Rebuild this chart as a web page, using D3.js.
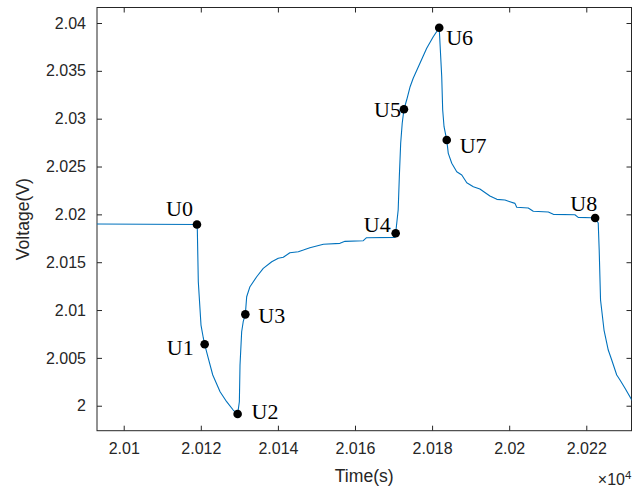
<!DOCTYPE html>
<html>
<head>
<meta charset="utf-8">
<script src="https://cdn.jsdelivr.net/npm/d3@7"></script>
<style>
  html, body { margin: 0; padding: 0; background: #fff; }
  svg { display: block; }
</style>
</head>
<body>
<svg id="chart" width="632" height="489"></svg>
<script>
// Discharge / charge voltage trace (time in seconds)
const timeS = [
  20093.0, 20119.0, 20119.1, 20119.35, 20120.05, 20120.65, 20121.0, 20121.95,
  20123.1, 20125.0, 20126.7, 20128.4, 20129.55, 20130.0, 20130.17, 20130.6,
  20131.0, 20131.55, 20131.9, 20132.75, 20134.5, 20136.2, 20138.4, 20140.1,
  20141.4, 20143.1, 20145.3, 20146.6, 20148.3, 20151.8, 20156.1, 20157.4,
  20162.15, 20163.0, 20170.4, 20170.55, 20171.2, 20171.5, 20171.85, 20172.25,
  20172.7, 20173.4, 20174.3, 20175.1, 20176.85, 20178.6, 20180.3, 20181.85,
  20182.05, 20182.5, 20182.75, 20183.1, 20183.8, 20184.2, 20185.1, 20186.4,
  20187.7, 20189.0, 20190.7, 20192.4, 20195.0, 20196.8, 20198.9, 20200.2,
  20201.5, 20201.95, 20204.95, 20206.25, 20210.15, 20211.45, 20217.05, 20217.9,
  20221.4, 20222.3, 20223.1, 20223.35, 20223.7, 20224.6, 20225.7, 20226.6,
  20227.9, 20228.75, 20230.05, 20231.8, 20232.4
];
const voltageV = [
  2.0190, 2.01894, 2.01836, 2.01296, 2.00843, 2.00708, 2.00642, 2.00495,
  2.00321, 2.00146, 2.00042, 1.99955, 1.99913, 2.00042, 2.00425, 2.00773,
  2.00878, 2.00955, 2.01139, 2.01244, 2.01348, 2.01436, 2.01505, 2.01541,
  2.01551, 2.01599, 2.01610, 2.01627, 2.01651, 2.01687, 2.01697, 2.01718,
  2.01725, 2.01756, 2.01760, 2.01802, 2.02045, 2.02394, 2.02743, 2.02952,
  2.03098, 2.03195, 2.03334, 2.03422, 2.03579, 2.03736, 2.03857, 2.03951,
  2.03788, 2.03439, 2.03091, 2.02916, 2.02777, 2.02638, 2.02534, 2.02446,
  2.02411, 2.02331, 2.02289, 2.02265, 2.02192, 2.02157, 2.02150, 2.02132,
  2.02115, 2.02074, 2.02066, 2.02032, 2.02025, 2.02000, 2.01996, 2.01969,
  2.01965, 2.01962, 2.01910, 2.01627, 2.01105, 2.00791, 2.00582, 2.00478,
  2.00321, 2.00269, 2.00182, 2.00060, 2.00028
];

// Characteristic points U0..U8
const keyNames = ["U0", "U1", "U2", "U3", "U4", "U5", "U6", "U7", "U8"];
const keyTime = [20119.0, 20121.0, 20129.55, 20131.55, 20170.55, 20172.7, 20181.85, 20183.8, 20222.3];
const keyVolt = [2.01894, 2.00642, 1.99913, 2.00955, 2.01802, 2.03098, 2.03951, 2.02777, 2.01962];

// Axis ticks
const xTicks = [20100, 20120, 20140, 20160, 20180, 20200, 20220];
const yTicks = [2.000, 2.005, 2.010, 2.015, 2.020, 2.025, 2.030, 2.035, 2.040];

const svg = d3.select("#chart");
const box = { left: 97, right: 631.5, top: 7.5, bottom: 430.7 };
const axisColor = "#262626";

const x = d3.scaleLinear().domain([20093.07, 20231.86]).range([box.left, box.right + 0.5]);
const y = d3.scaleLinear().domain([1.99739, 2.04162]).range([box.bottom, box.top]);

svg.append("defs").append("clipPath").attr("id", "plotArea")
  .append("rect")
  .attr("x", box.left).attr("y", box.top)
  .attr("width", box.right - box.left).attr("height", box.bottom - box.top);

// Axes: ticks point inward, box drawn on all sides
const tickLen = 5;
const fmtX = d => String(+(d / 1e4).toFixed(4));
const fmtY = d => String(+d.toFixed(3));

const gx = svg.append("g").attr("transform", `translate(0,${box.bottom})`)
  .call(d3.axisBottom(x).tickValues(xTicks).tickFormat(fmtX).tickSizeInner(-tickLen).tickSizeOuter(0).tickPadding(12));
const gxTop = svg.append("g").attr("transform", `translate(0,${box.top})`)
  .call(d3.axisTop(x).tickValues(xTicks).tickFormat("").tickSizeInner(-tickLen).tickSizeOuter(0));
const gy = svg.append("g").attr("transform", `translate(${box.left},0)`)
  .call(d3.axisLeft(y).tickValues(yTicks).tickFormat(fmtY).tickSizeInner(-tickLen).tickSizeOuter(0).tickPadding(11));
const gyRight = svg.append("g").attr("transform", `translate(${box.right},0)`)
  .call(d3.axisRight(y).tickValues(yTicks).tickFormat("").tickSizeInner(-tickLen).tickSizeOuter(0));

[gx, gxTop, gy, gyRight].forEach(g => {
  g.select(".domain").remove();
  g.selectAll(".tick line").attr("stroke", axisColor).attr("stroke-width", 1);
  g.selectAll(".tick text")
    .attr("fill", axisColor)
    .style("font-family", "'Liberation Sans', Arial, sans-serif")
    .style("font-size", "16px");
});

svg.append("rect")
  .attr("x", box.left).attr("y", box.top)
  .attr("width", box.right - box.left).attr("height", box.bottom - box.top)
  .attr("fill", "none").attr("stroke", axisColor).attr("stroke-width", 1);

// Voltage curve
const trace = d3.zip(timeS, voltageV);
svg.append("path")
  .datum(trace)
  .attr("clip-path", "url(#plotArea)")
  .attr("fill", "none")
  .attr("stroke", "#0072BD")
  .attr("stroke-width", 1.1)
  .attr("stroke-linejoin", "round")
  .attr("d", d3.line().x(d => x(d[0])).y(d => y(d[1])));

// Key point markers and their labels
const keyPts = keyNames.map((n, i) => ({ name: n, t: keyTime[i], v: keyVolt[i] }));
const labelPlace = {
  U0: { dx: -4, dy: -9, anchor: "end" },
  U1: { dx: -11, dy: 11, anchor: "end" },
  U2: { dx: 14, dy: 5, anchor: "start" },
  U3: { dx: 13, dy: 9, anchor: "start" },
  U4: { dx: -5, dy: -1, anchor: "end" },
  U5: { dx: -3, dy: 8, anchor: "end" },
  U6: { dx: 7, dy: 17, anchor: "start" },
  U7: { dx: 13, dy: 13, anchor: "start" },
  U8: { dx: 2, dy: -7, anchor: "end" }
};

svg.append("g").selectAll("circle")
  .data(keyPts).join("circle")
  .attr("cx", d => x(d.t)).attr("cy", d => y(d.v))
  .attr("r", 4.3).attr("fill", "#000");

svg.append("g").selectAll("text")
  .data(keyPts).join("text")
  .attr("x", d => x(d.t) + labelPlace[d.name].dx)
  .attr("y", d => y(d.v) + labelPlace[d.name].dy)
  .attr("text-anchor", d => labelPlace[d.name].anchor)
  .style("font-family", "'Liberation Serif', 'Times New Roman', serif")
  .style("font-size", "22px")
  .attr("fill", "#000")
  .text(d => d.name);

// Axis titles
svg.append("text")
  .attr("x", (box.left + box.right) / 2).attr("y", 481.5)
  .attr("text-anchor", "middle")
  .style("font-family", "'Liberation Sans', Arial, sans-serif")
  .style("font-size", "17.6px")
  .attr("fill", axisColor)
  .text("Time(s)");

svg.append("text")
  .attr("transform", `translate(28.5,${(box.top + box.bottom) / 2}) rotate(-90)`)
  .attr("text-anchor", "middle")
  .style("font-family", "'Liberation Sans', Arial, sans-serif")
  .style("font-size", "17.6px")
  .attr("fill", axisColor)
  .text("Voltage(V)");

// Exponent note for the time axis
const expo = svg.append("text")
  .attr("x", 625).attr("y", 484.5)
  .attr("text-anchor", "end")
  .style("font-family", "'Liberation Sans', Arial, sans-serif")
  .style("font-size", "16px")
  .attr("fill", axisColor)
  .text("×10");
svg.append("text")
  .attr("x", 625).attr("y", 479)
  .style("font-family", "'Liberation Sans', Arial, sans-serif")
  .style("font-size", "11.5px")
  .attr("fill", axisColor)
  .text("4");
</script>
</body>
</html>
